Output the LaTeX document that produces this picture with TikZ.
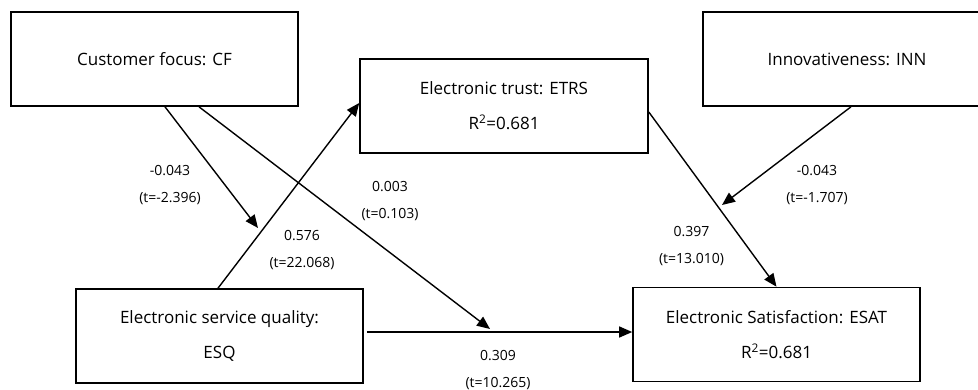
\documentclass[tikz,border=0pt]{standalone}
\usepackage{fontspec}
\setmainfont{Open Sans}
\usetikzlibrary{arrows.meta,calc}
\tikzset{
  boxnode/.style={draw, line width=1.6pt, minimum width=287pt, minimum height=94pt, inner sep=0pt, align=center, font=\fontsize{17}{35}\selectfont},
  lbl/.style={align=center, inner sep=0pt, font=\fontsize{14}{27}\selectfont},
  arr/.style={line width=1.4pt, -{Triangle[length=13pt,width=11pt]}},
  ln/.style={line width=1.4pt}
}
\begin{document}
\begin{tikzpicture}[x=1pt,y=-1pt]
\useasboundingbox (0,0) rectangle (978,389);
\clip (0,0) rectangle (978,389);
\node[boxnode] (CF) at (154.5,59) {Customer focus: CF};
\node[boxnode, minimum width=288pt] (ETRS) at (504,106) {Electronic trust: ETRS\\R\textsuperscript{2}=0.681};
\node[boxnode, minimum width=288pt] (INN) at (847,59) {Innovativeness: INN};
\node[boxnode] (ESQ) at (219.5,336) {Electronic service quality:\\ESQ};
\node[boxnode] (ESAT) at (776.5,334.5) {Electronic Satisfaction: ESAT\\R\textsuperscript{2}=0.681};
\coordinate (m1) at (258,228);
\coordinate (m2) at (490,329);
\coordinate (m3) at (722,205);
\draw[arr] ([xshift=10.5pt]CF.south) -- (m1);
\draw[arr] ([xshift=44.5pt]CF.south) -- (m2);
\draw[arr] ([xshift=-1.5pt]ESQ.north) -- ([yshift=3pt]ETRS.west);
\draw[arr] ([yshift=4pt,xshift=3pt]ESQ.east) -- ([yshift=4pt]ESQ.east -| ESAT.west);
\draw[arr] ([yshift=-6pt]ETRS.east) -- (ESAT.north);
\draw[arr] ([xshift=4pt]INN.south) -- (m3);
\node[lbl] (l1) at (170,185) {-0.043\\(t=-2.396)};
\node[lbl] (l2) at (390,201.5) {0.003\\(t=0.103)};
\node[lbl] (l3) at (302,250) {0.576\\(t=22.068)};
\node[lbl] (l4) at (817,185) {-0.043\\(t=-1.707)};
\node[lbl] (l5) at (691.5,246) {0.397\\(t=13.010)};
\node[lbl] (l6) at (498,370) {0.309\\(t=10.265)};
\end{tikzpicture}
\end{document}
